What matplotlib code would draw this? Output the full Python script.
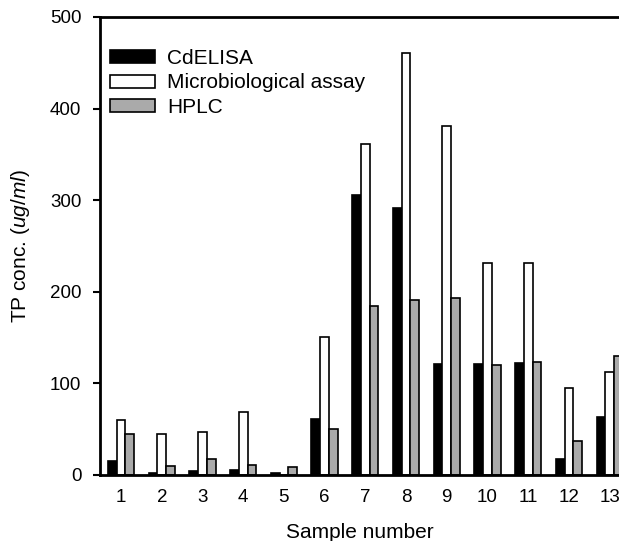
import matplotlib
matplotlib.use("Agg")
import matplotlib.pyplot as plt
import numpy as np

# %%
samples = ["1", "2", "3", "4", "5", "6", "7", "8", "9", "10", "11", "12", "13"]
cdelisa = [15, 2, 4, 6, 2, 61, 306, 291, 121, 121, 122, 18, 63]
micro_assay = [60, 45, 47, 69, 0, 151, 361, 461, 381, 231, 231, 95, 112]
hplc = [45, 10, 18, 11, 9, 50, 185, 191, 193, 120, 123, 37, 130]
y_ticks = [0, 100, 200, 300, 400, 500]

# %%
plt.rcParams["font.family"] = ["Liberation Sans", "DejaVu Sans"]
plt.rcParams["mathtext.fontset"] = "custom"
plt.rcParams["mathtext.it"] = "Liberation Sans:italic"
plt.rcParams["mathtext.rm"] = "Liberation Sans"

fig = plt.figure(figsize=(6.19, 5.41), dpi=100)
ax = fig.add_axes([0.1616, 0.122, 0.8384, 0.8466])

x = np.arange(1, len(samples) + 1)
width = 0.215
ax.bar(x - width, cdelisa, width, color="black", edgecolor="black", linewidth=1.2, label="CdELISA")
ax.bar(x, micro_assay, width, color="white", edgecolor="black", linewidth=1.2, label="Microbiological assay")
ax.bar(x + width, hplc, width, color="#aaaaaa", edgecolor="black", linewidth=1.2, label="HPLC")

ax.set_xlim(0.484, 13.23)
ax.set_ylim(0, 500)
ax.set_xticks(x)
ax.set_xticklabels(samples)
ax.set_yticks(y_ticks)
ax.tick_params(axis="x", length=0, pad=10, labelsize=13.5)
ax.tick_params(axis="y", length=5, width=1.5, direction="out", labelsize=13.5, pad=8.5)

for side in ["left", "bottom", "top"]:
    ax.spines[side].set_linewidth(2)
ax.spines["right"].set_visible(False)

ax.set_xlabel("Sample number", fontsize=15, labelpad=12)
ax.set_ylabel("TP conc. ($\\it{ug/ml}$)", fontsize=15, labelpad=13)

ax.legend(loc="upper left", bbox_to_anchor=(0.019, 0.931), frameon=False, fontsize=15,
          borderaxespad=0, borderpad=0, handlelength=2.16, handleheight=0.58,
          labelspacing=0.28, handletextpad=0.58)

fig.savefig("out.png", dpi=100)
